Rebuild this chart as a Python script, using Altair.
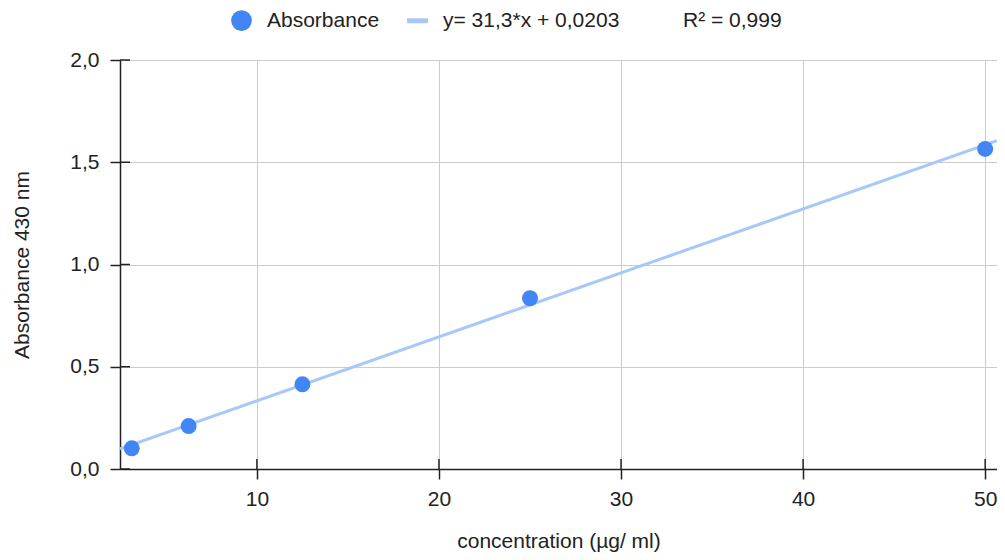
import altair as alt
import pandas as pd

# Data
conc = [3.125, 6.25, 12.5, 25, 50]
absorb = [0.101, 0.210, 0.414, 0.835, 1.565]
line_x = [2.48, 50.65]
line_y = [0.098, 1.605]
x_ticks = [10, 20, 30, 40, 50]
y_ticks = [0.0, 0.5, 1.0, 1.5, 2.0]
series = ["Absorbance", "y= 31,3*x + 0,0203", "R² = 0,999"]

W, H = 877, 409
FONT = "Liberation Sans"
FS = 21

pts = pd.DataFrame({"x": conc, "y": absorb, "series": series[0]})
ln = pd.DataFrame({"x": line_x, "y": line_y, "series": series[1]})
xt = pd.DataFrame({"x": x_ticks})
yt = pd.DataFrame({"y": y_ticks})

xscale = alt.Scale(domain=[line_x[0], line_x[1]], nice=False, zero=False)
yscale = alt.Scale(domain=[0, 2], nice=False)

xaxis = alt.Axis(values=x_ticks, format="d", title="concentration (µg/ ml)",
                 tickSize=10, labelPadding=9, titlePadding=21)
yaxis = alt.Axis(values=y_ticks, title="Absorbance 430 nm", tickSize=10,
                 labelPadding=11, titlePadding=37, labelExpr="replace(format(datum.value, '.1f'), '.', ',')")

legend = alt.Legend(
    title=None, orient="none", direction="horizontal", legendX=111, legendY=-50,
    symbolSize=430, symbolStrokeWidth=0, labelOffset=15, columnPadding=27,
    labelFont=FONT, labelFontSize=FS, labelColor="#222", padding=0, labelLimit=0,
)
color = alt.Color("series:N", scale=alt.Scale(domain=series, range=["#4285F4", "#A8C7FA", "rgba(0,0,0,0)"]),
                  legend=legend)
shape = alt.Shape("series:N", scale=alt.Scale(domain=series, range=[
    "circle", "M-1.01,-0.24H1.01V0.24H-1.01Z", "M0,0"]), legend=legend)

line = alt.Chart(ln).mark_line(strokeWidth=3, clip=True).encode(
    x=alt.X("x:Q", scale=xscale, axis=xaxis),
    y=alt.Y("y:Q", scale=yscale, axis=yaxis),
    color=color,
)
points = alt.Chart(pts).mark_point(filled=True, size=256, opacity=1).encode(
    x=alt.X("x:Q", scale=xscale),
    y=alt.Y("y:Q", scale=yscale),
    color=color,
    shape=shape,
)
xin = alt.Chart(xt).mark_rule(color="#222", strokeWidth=1.5).encode(
    x=alt.X("x:Q", scale=xscale), y=alt.value(H - 10), y2=alt.value(H))
yin = alt.Chart(yt).mark_rule(color="#222", strokeWidth=1.5).encode(
    y=alt.Y("y:Q", scale=yscale), x=alt.value(0), x2=alt.value(10))

chart = alt.layer(line, points, xin, yin).properties(
    width=W, height=H,
    autosize=alt.AutoSizeParams(type="none"),
    padding={"left": 112, "top": 52, "right": 0, "bottom": 83},
).configure_view(stroke=None).configure_axis(
    labelFont=FONT, titleFont=FONT, labelFontSize=FS, titleFontSize=FS,
    labelColor="#222", titleColor="#222", titleFontWeight="normal",
    domainColor="#222", domainWidth=1.5, tickColor="#222", tickWidth=1.5,
    gridColor="#cccccc", gridWidth=1,
)

chart.save("out.html", embed_options={"renderer": "svg", "actions": False})
